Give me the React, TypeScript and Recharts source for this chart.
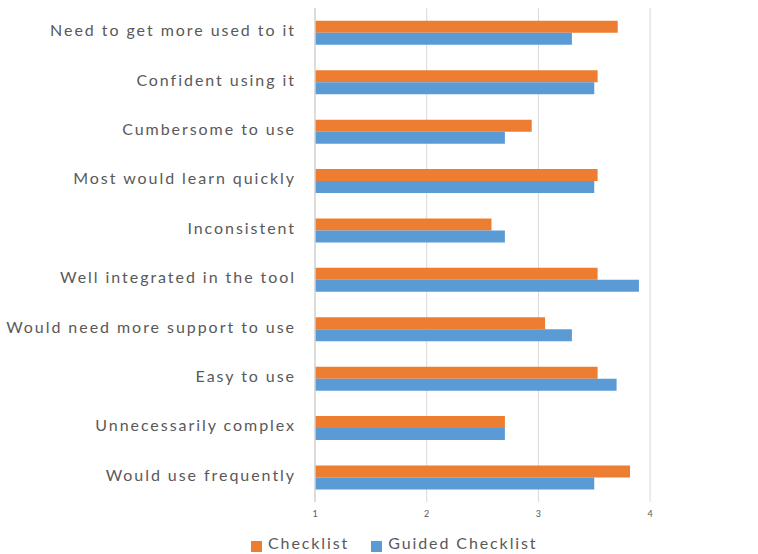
import React from "react";
import { BarChart, Bar, XAxis, YAxis, CartesianGrid, Legend } from "recharts";

const categories = [
  "Need to get more used to it",
  "Confident using it",
  "Cumbersome to use",
  "Most would learn quickly",
  "Inconsistent",
  "Well integrated in the tool",
  "Would need more support to use",
  "Easy to use",
  "Unnecessarily complex",
  "Would use frequently",
];
const checklist = [3.71, 3.53, 2.94, 3.53, 2.58, 3.53, 3.06, 3.53, 2.7, 3.82];
const guided = [3.3, 3.5, 2.7, 3.5, 2.7, 3.9, 3.3, 3.7, 2.7, 3.5];
const xTicks = [1, 2, 3, 4];
const xDomain = [1, 4.93];
const seriesNames = ["Checklist", "Guided Checklist"];
const colors = ["#ED7D31", "#5B9BD5"];

const data = categories.map((c, i) => ({ name: c, checklist: checklist[i], guided: guided[i] }));

const FONT = "Lato, 'Open Sans', sans-serif";

const YTick = (props: any) => {
  const { x, y, payload } = props;
  return (
    <text x={x} y={y - 3} textAnchor="end" dominantBaseline="central" fill="#595959" fontSize={16} fontFamily={FONT} letterSpacing={1.95}>
      {payload.value}
    </text>
  );
};

const XTick = (props: any) => {
  const { x, y, payload } = props;
  return (
    <text x={x} y={y} dy="0.71em" textAnchor="middle" fill="#595959" fontSize={9} fontFamily={FONT}>
      {payload.value}
    </text>
  );
};

const LegendContent = () => (
  <div style={{ display: "flex", justifyContent: "flex-start", paddingLeft: 251, fontFamily: FONT, fontSize: 16, color: "#595959", letterSpacing: 1.9 }}>
    {seriesNames.map((n, i) => (
      <div key={n} style={{ display: "flex", alignItems: "flex-end", marginRight: 22 }}>
        <span style={{ display: "inline-block", width: 11, height: 11, background: colors[i], marginRight: 6, marginBottom: -1 }} />
        <span style={{ lineHeight: "16px" }}>{n}</span>
      </div>
    ))}
  </div>
);

const gridGen = (args: any) => {
  const scale = args?.xAxis?.scale;
  const off = args?.offset;
  return xTicks.slice(1).map((t) => {
    if (typeof scale === "function") return scale(t);
    if (scale && typeof scale.map === "function") return scale.map(t);
    return off.left + ((t - xDomain[0]) / (xDomain[1] - xDomain[0])) * off.width;
  });
};

export default function App() {
  return (
    <div style={{ position: "absolute", left: 0, top: 0, width: 758, height: 554, background: "#fff" }}>
      <BarChart
        width={758}
        height={554}
        data={data}
        layout="vertical"
        margin={{ top: 8, right: 4, left: 0, bottom: 22 }}
        barCategoryGap="26%"
        barGap={0}
      >
        <CartesianGrid horizontal={false} vertical={true} stroke="#d9d9d9" verticalCoordinatesGenerator={gridGen} />
        <XAxis
          type="number"
          domain={xDomain}
          ticks={xTicks}
          axisLine={false}
          tickLine={false}
          tickSize={0}
          tickMargin={9}
          height={30}
          tick={<XTick />}
        />
        <YAxis
          type="category"
          dataKey="name"
          width={315}
          axisLine={{ stroke: "#d0d0d0", strokeWidth: 1.5 }}
          tickLine={false}
          tickSize={0}
          tickMargin={19}
          interval={0}
          tick={<YTick />}
        />
        <Legend
          layout="horizontal"
          verticalAlign="middle"
          align="center"
          wrapperStyle={{ top: 535, left: 0, width: 758 }}
          content={<LegendContent />}
        />
        <Bar dataKey="checklist" name={seriesNames[0]} fill={colors[0]} isAnimationActive={false} />
        <Bar dataKey="guided" name={seriesNames[1]} fill={colors[1]} isAnimationActive={false} />
      </BarChart>
    </div>
  );
}
